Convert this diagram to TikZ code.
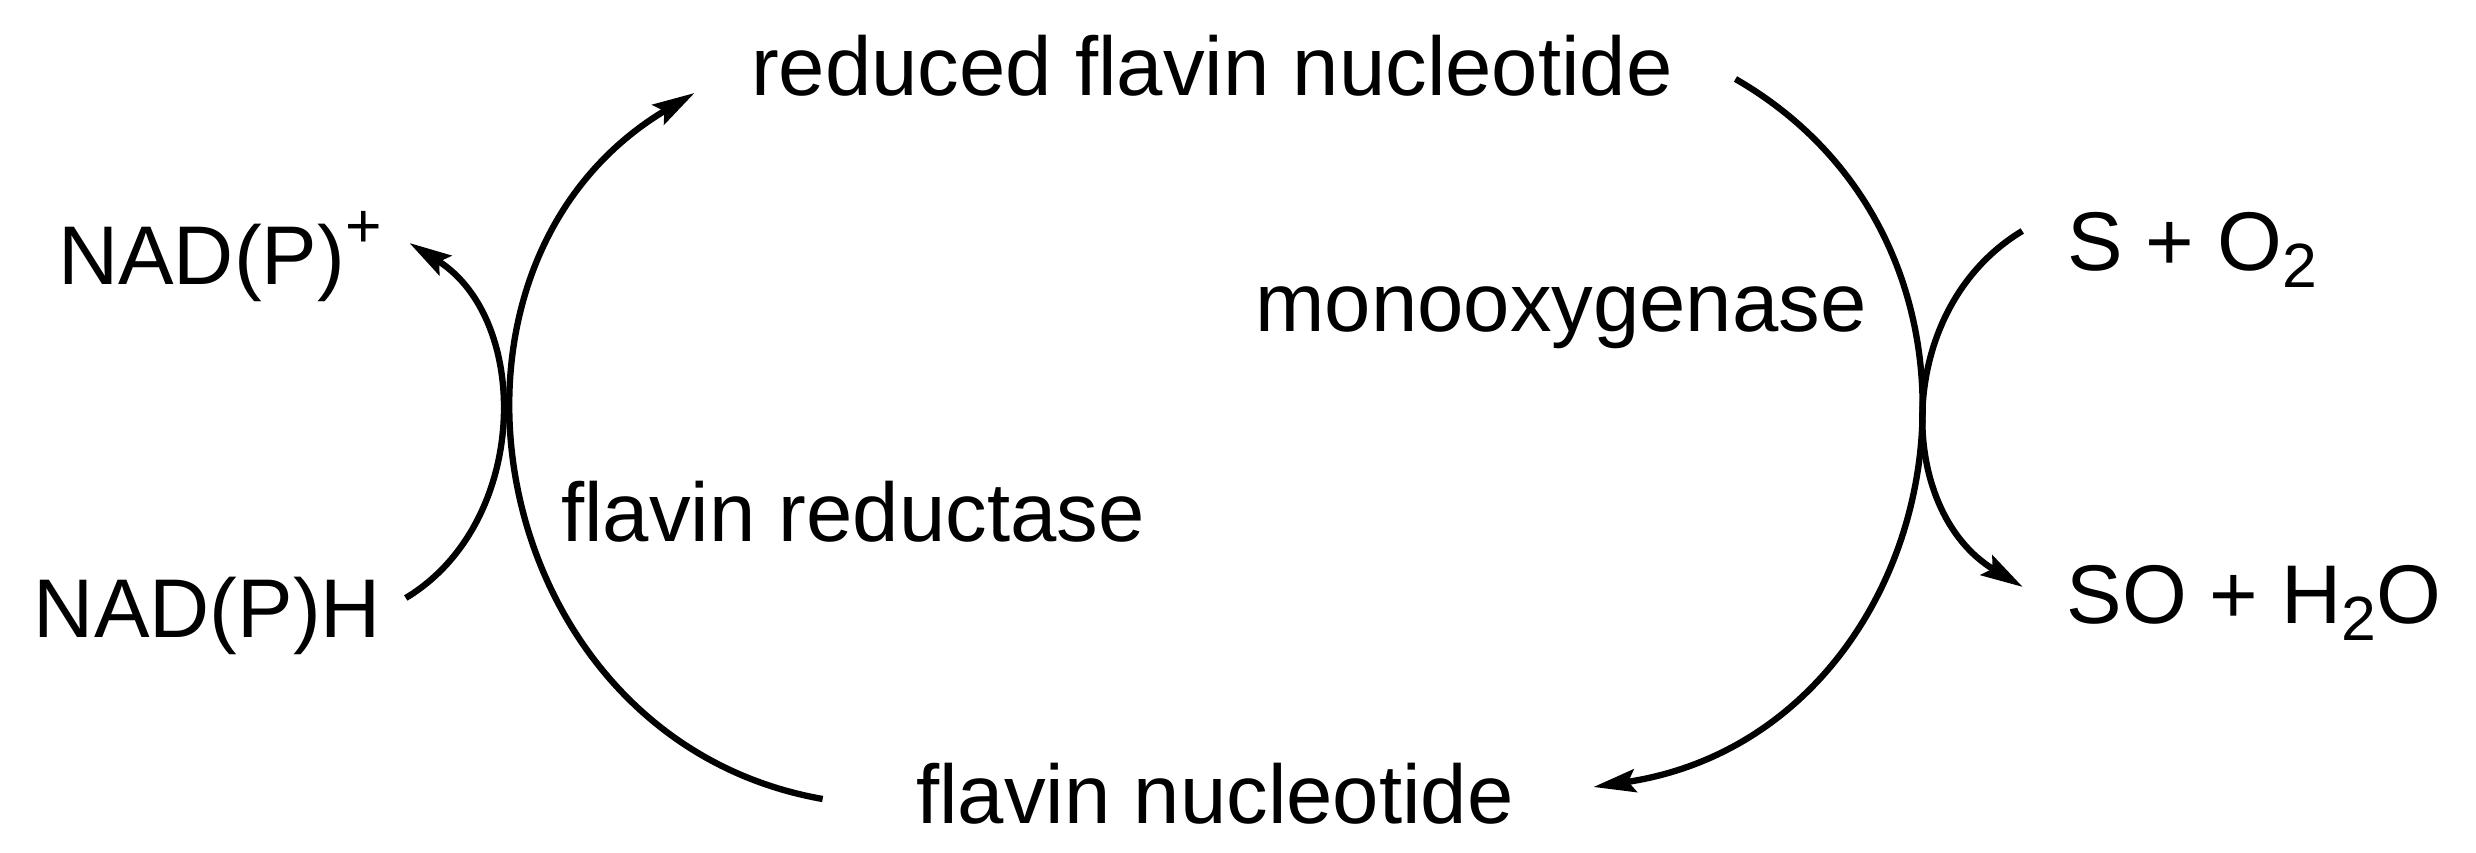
\documentclass[tikz,border=0pt]{standalone}
\usepackage{fontspec}
\setmainfont{Liberation Sans}
\usetikzlibrary{arrows.meta}
\newcommand{\chemsub}[1]{\raisebox{-0.2em}{\fontsize{17.8}{20}\selectfont #1}}
\newcommand{\chemsup}[1]{\raisebox{0.45em}{\fontsize{17.8}{20}\selectfont #1}}

\begin{document}
\begin{tikzpicture}[x=1mm, y=1mm]
    \tikzstyle{every node}+=[inner sep=0pt]
    \tikzstyle{lbl}=[anchor=base, font=\fontsize{23.7}{28}\selectfont]
    \tikzstyle{rxn}=[black, line width=1.8pt, -{Stealth[length=12pt, width=6.5pt, inset=2pt]}]
    \useasboundingbox (0,0) rectangle (247.6,-85.3);
    % flavin cycle
    \node [lbl] (rfn) at (121.2,-9.6) {reduced flavin nucleotide};
    \node [lbl] (fn) at (121.5,-82.3) {flavin nucleotide};
    \node [lbl] (fr) at (85.3,-54.2) {flavin reductase};
    \node [lbl] (mo) at (156.1,-33.2) {monooxygenase};
    % cofactors and substrate
    \node [lbl] (nadp) at (22.0,-28.5) {NAD(P)\chemsup{+}};
    \node [lbl] (nadph) at (20.75,-63.8) {NAD(P)H};
    \node [lbl] (so2) at (219.2,-27.1) {S + O\chemsub{2}};
    \node [lbl] (soh2o) at (225.4,-62.4) {SO + H\chemsub{2}O};
    % arc ends
    \path (fn.base west) ++(-9.3,2.4) coordinate (fnL);
    \path (fn.base east) ++(7.9,3.6) coordinate (fnR);
    \path (rfn.base west) ++(-5.6,0.3) coordinate (rfnL);
    \path (rfn.base east) ++(6.2,1.7) coordinate (rfnR);
    \path (nadph.base east) ++(2.4,4.0) coordinate (nadphE);
    \path (nadp.base east) ++(2.7,4.2) coordinate (nadpE);
    \path (so2.base west) ++(-4.4,4.0) coordinate (so2W);
    \path (soh2o.base west) ++(-4.3,3.7) coordinate (soh2oW);
    % arcs
    \draw [rxn] (fnL) to[out=170, in=210.8, looseness=1.22] (rfnL);
    \draw [rxn] (rfnR) to[out=-30, in=8.5, looseness=1.26] (fnR);
    \draw [rxn] (nadphE) to[out=31, in=-32, looseness=1.04] (nadpE);
    \draw [rxn] (so2W) to[out=211, in=149, looseness=1.08] (soh2oW);
\end{tikzpicture}
\end{document}
